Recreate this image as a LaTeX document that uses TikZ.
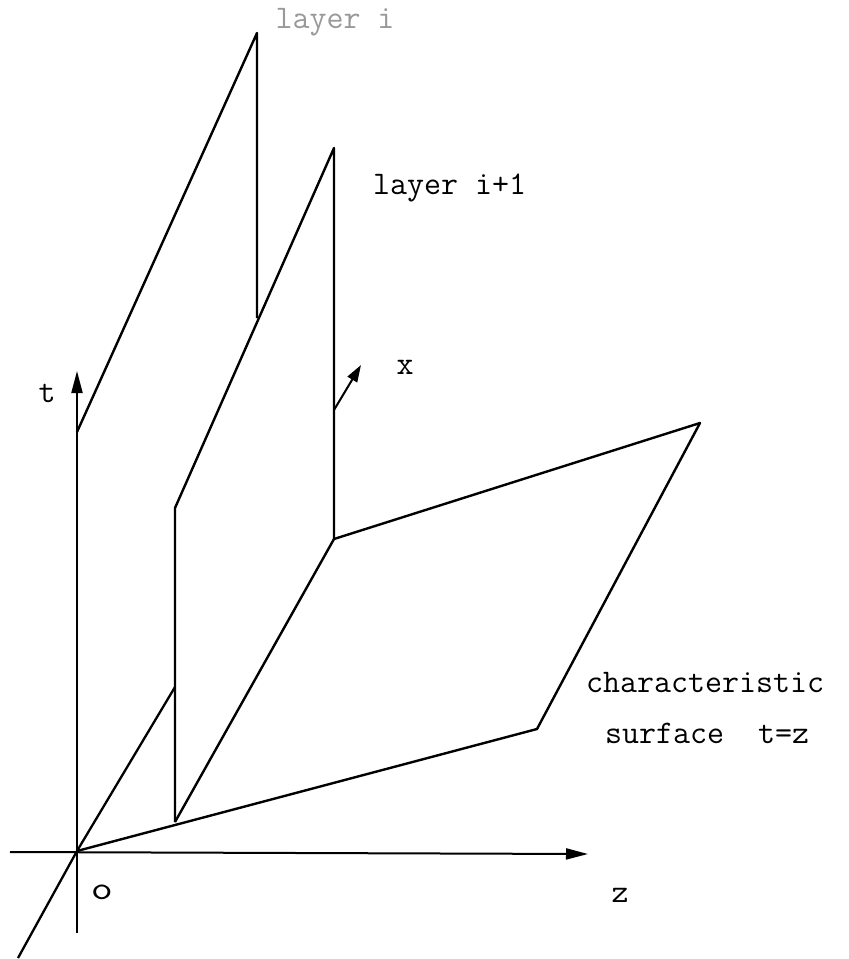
\documentclass[tikz,border=0pt]{standalone}
\usetikzlibrary{arrows.meta}

\begin{document}
\begin{tikzpicture}[x=1pt, y=-1pt, line join=round,
        every node/.style={font=\ttfamily\fontsize{33}{38}\selectfont, inner sep=0pt}]
        \useasboundingbox (0,0) rectangle (849,959);

        % axes points
        \coordinate (o) at (77,851);
        \coordinate (zl) at (10,852);
        \coordinate (zr) at (588,854);
        \coordinate (tb) at (77,933);
        \coordinate (tt) at (77,371);
        \coordinate (xb) at (18,958);
        \coordinate (xh) at (175,687);

        % layer i
        \coordinate (la) at (77,432);
        \coordinate (lb) at (257,33);
        \coordinate (lc) at (257,318);

        % layer i+1
        \coordinate (ma) at (175,822);
        \coordinate (mb) at (175,508);
        \coordinate (mc) at (334,148);
        \coordinate (md) at (334,539);
        \coordinate (xa) at (334,410);
        \coordinate (xt) at (361,365);

        % characteristic surface
        \coordinate (sa) at (537,729);
        \coordinate (sb) at (700,423);

        \begin{scope}[line width=2pt]
        \draw[-{Triangle[length=22pt,width=11pt]}] (zl) -- (zr);
        \draw[-{Triangle[length=22pt,width=11pt]}] (tb) -- (tt);
        \draw[line width=2.3pt] (xb) -- (o) -- (xh);
        \draw[-{Triangle[length=17pt,width=11pt]}] (xa) -- (xt);
        \end{scope}

        \begin{scope}[line width=2.4pt]
        \draw (la) -- (lb) -- (lc);
        \draw (ma) -- (mb) -- (mc) -- (md);
        \draw (o) -- (sa) -- (sb) -- (md) -- (ma);
        \end{scope}

        \node (tlab) at (47,393) {t};
        \node (xlab) at (405,367) {x};
        \node[xscale=1.3] (olab) at (102,892) {o};
        \node (zlab) at (620,895) {z};
        \node[text=black!40] (li) at (335,22) {layer i};
        \node[anchor=west] (lj) at (373,188) {layer i+1};
        \node[anchor=west] (ch) at (586,683) {characteristic};
        \node[anchor=west] (sf) at (605,733) {surface\ \ t=z};

        \end{tikzpicture}
\end{document}
